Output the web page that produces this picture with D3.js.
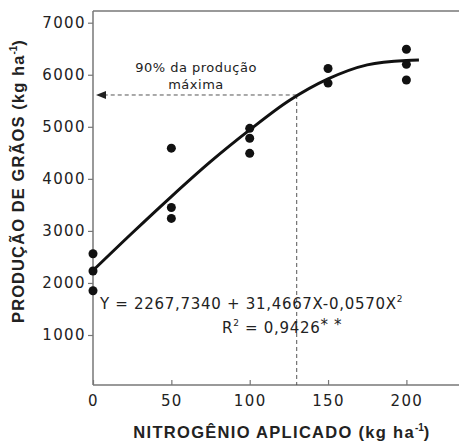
<!DOCTYPE html>
<html>
<head>
<meta charset="utf-8">
<script src="https://cdn.jsdelivr.net/npm/d3@7"></script>
<style>
  body { margin: 0; background: #fff; }
  text { font-family: "DejaVu Sans", sans-serif; fill: #222; }
</style>
</head>
<body>
<div id="chart"></div>
<script>
// chart setup
var svgWidth = 459;
var svgHeight = 441;

// observed yields (kg/ha) for each N dose
var doses = [0, 0, 0, 50, 50, 50, 100, 100, 100, 150, 150, 200, 200, 200];
var yields = [2560, 2230, 1850, 4590, 3450, 3240, 4970, 4780, 4490, 6120, 5840, 6490, 6200, 5900];

// fitted curve
var curveX = [0, 25, 50, 75, 100, 125, 150, 175, 200, 208];
var curveY = [2240, 2960, 3660, 4330, 4940, 5500, 5920, 6190, 6276, 6285];

var xTicks = [0, 50, 100, 150, 200];
var yTicks = [1000, 2000, 3000, 4000, 5000, 6000, 7000];

var refX = 130;   // dose at 90% of max
var refY = 5611;  // 90% of max yield

var margin = { top: 11, left: 93 };
var plotRight = 459;
var plotBottom = 385;

var svg = d3.select("#chart")
  .append("svg")
  .attr("width", svgWidth)
  .attr("height", svgHeight);

var xScale = d3.scaleLinear()
  .domain([0, 50])
  .range([margin.left, margin.left + 78.35]);

var yScale = d3.scaleLinear()
  .domain([1000, 7000])
  .range([335, 22.7]);

// frame lines
svg.append("line")
  .attr("x1", margin.left).attr("x2", plotRight)
  .attr("y1", margin.top).attr("y2", margin.top)
  .attr("stroke", "#777").attr("stroke-width", 1.5);

// y axis
var leftAxis = d3.axisLeft(yScale)
  .tickValues(yTicks)
  .tickSize(5)
  .tickPadding(2)
  .tickFormat(d3.format("d"));

var yAxis = svg.append("g")
  .attr("transform", `translate(${margin.left}, 0)`)
  .call(leftAxis);
yAxis.select(".domain").remove();
yAxis.append("line")
  .attr("x1", 0).attr("x2", 0)
  .attr("y1", margin.top).attr("y2", plotBottom)
  .attr("stroke", "#777").attr("stroke-width", 1.5);

// x axis (ticks point inward)
var bottomAxis = d3.axisBottom(xScale)
  .tickValues(xTicks)
  .tickSize(-5)
  .tickPadding(10)
  .tickFormat(d3.format("d"));

var xAxis = svg.append("g")
  .attr("transform", `translate(0, ${plotBottom})`)
  .call(bottomAxis);
xAxis.select(".domain").remove();
xAxis.append("line")
  .attr("x1", margin.left).attr("x2", plotRight)
  .attr("y1", 0).attr("y2", 0)
  .attr("stroke", "#777").attr("stroke-width", 1.5);

svg.selectAll(".tick line").attr("stroke", "#777").attr("stroke-width", 1.2);
svg.selectAll(".tick text")
  .style("font-family", "DejaVu Sans, sans-serif")
  .style("font-size", "15px")
  .style("letter-spacing", "1.4px")
  .attr("fill", "#222");

// reference dashed lines
svg.append("line")
  .attr("x1", xScale(refX)).attr("x2", xScale(refX))
  .attr("y1", yScale(refY)).attr("y2", plotBottom)
  .attr("stroke", "#555").attr("stroke-width", 1)
  .attr("stroke-dasharray", "4,3");

svg.append("line")
  .attr("x1", xScale(refX)).attr("x2", margin.left + 12)
  .attr("y1", yScale(refY)).attr("y2", yScale(refY))
  .attr("stroke", "#555").attr("stroke-width", 1)
  .attr("stroke-dasharray", "4,3");

svg.append("path")
  .attr("d", d3.line()([
    [margin.left + 3, yScale(refY)],
    [margin.left + 13, yScale(refY) - 4],
    [margin.left + 13, yScale(refY) + 4]
  ]) + "Z")
  .attr("fill", "#222");

// fitted curve
var lineGen = d3.line()
  .x(d => xScale(d[0]))
  .y(d => yScale(d[1]))
  .curve(d3.curveMonotoneX);

svg.append("path")
  .datum(curveX.map((x, i) => [x, curveY[i]]))
  .attr("d", lineGen)
  .attr("fill", "none")
  .attr("stroke", "#111")
  .attr("stroke-width", 3);

// points
svg.selectAll("circle")
  .data(doses.map((x, i) => [x, yields[i]]))
  .enter()
  .append("circle")
  .attr("cx", d => xScale(d[0]))
  .attr("cy", d => yScale(d[1]))
  .attr("r", 4.5)
  .attr("fill", "#111");

// annotation
var note = svg.append("text")
  .attr("text-anchor", "middle")
  .style("font-size", "13px")
  .style("letter-spacing", "0.5px");
note.append("tspan").attr("x", 196).attr("y", 72).text("90% da produção");
note.append("tspan").attr("x", 196).attr("y", 89).text("máxima");

// equation
var eq = svg.append("text")
  .attr("x", 100).attr("y", 309)
  .style("font-size", "15px")
  .style("letter-spacing", "0.7px");
eq.append("tspan").text("Y = 2267,7340 + 31,4667X-0,0570X");
eq.append("tspan").attr("dy", -7).style("font-size", "9px").text("2");

var r2 = svg.append("text")
  .attr("x", 222).attr("y", 333)
  .style("font-size", "15px")
  .style("letter-spacing", "0.7px");
r2.append("tspan").text("R");
r2.append("tspan").attr("dy", -7).style("font-size", "9px").text("2");
r2.append("tspan").attr("dy", 7).text(" = 0,9426");
r2.append("tspan").attr("dy", -3).text("* *");

// axis titles
var xt = svg.append("text")
  .attr("x", 282).attr("y", 438)
  .attr("text-anchor", "middle")
  .style("font-family", "Liberation Sans, Arial, sans-serif")
  .style("font-weight", "bold")
  .style("font-size", "16.5px")
  .style("letter-spacing", "1.3px");
xt.append("tspan").text("NITROGÊNIO APLICADO (kg ha");
xt.append("tspan").attr("dy", -7).style("font-size", "10px").style("letter-spacing", "0px").text("-1");
xt.append("tspan").attr("dy", 7).text(")");

var yt = svg.append("text")
  .attr("transform", "translate(24, 181) rotate(-90)")
  .attr("text-anchor", "middle")
  .style("font-family", "Liberation Sans, Arial, sans-serif")
  .style("font-weight", "bold")
  .style("font-size", "16.5px")
  .style("letter-spacing", "1.1px");
yt.append("tspan").text("PRODUÇÃO DE GRÃOS (kg ha");
yt.append("tspan").attr("dy", -7).style("font-size", "10px").style("letter-spacing", "0px").text("-1");
yt.append("tspan").attr("dy", 7).text(")");
</script>
</body>
</html>
